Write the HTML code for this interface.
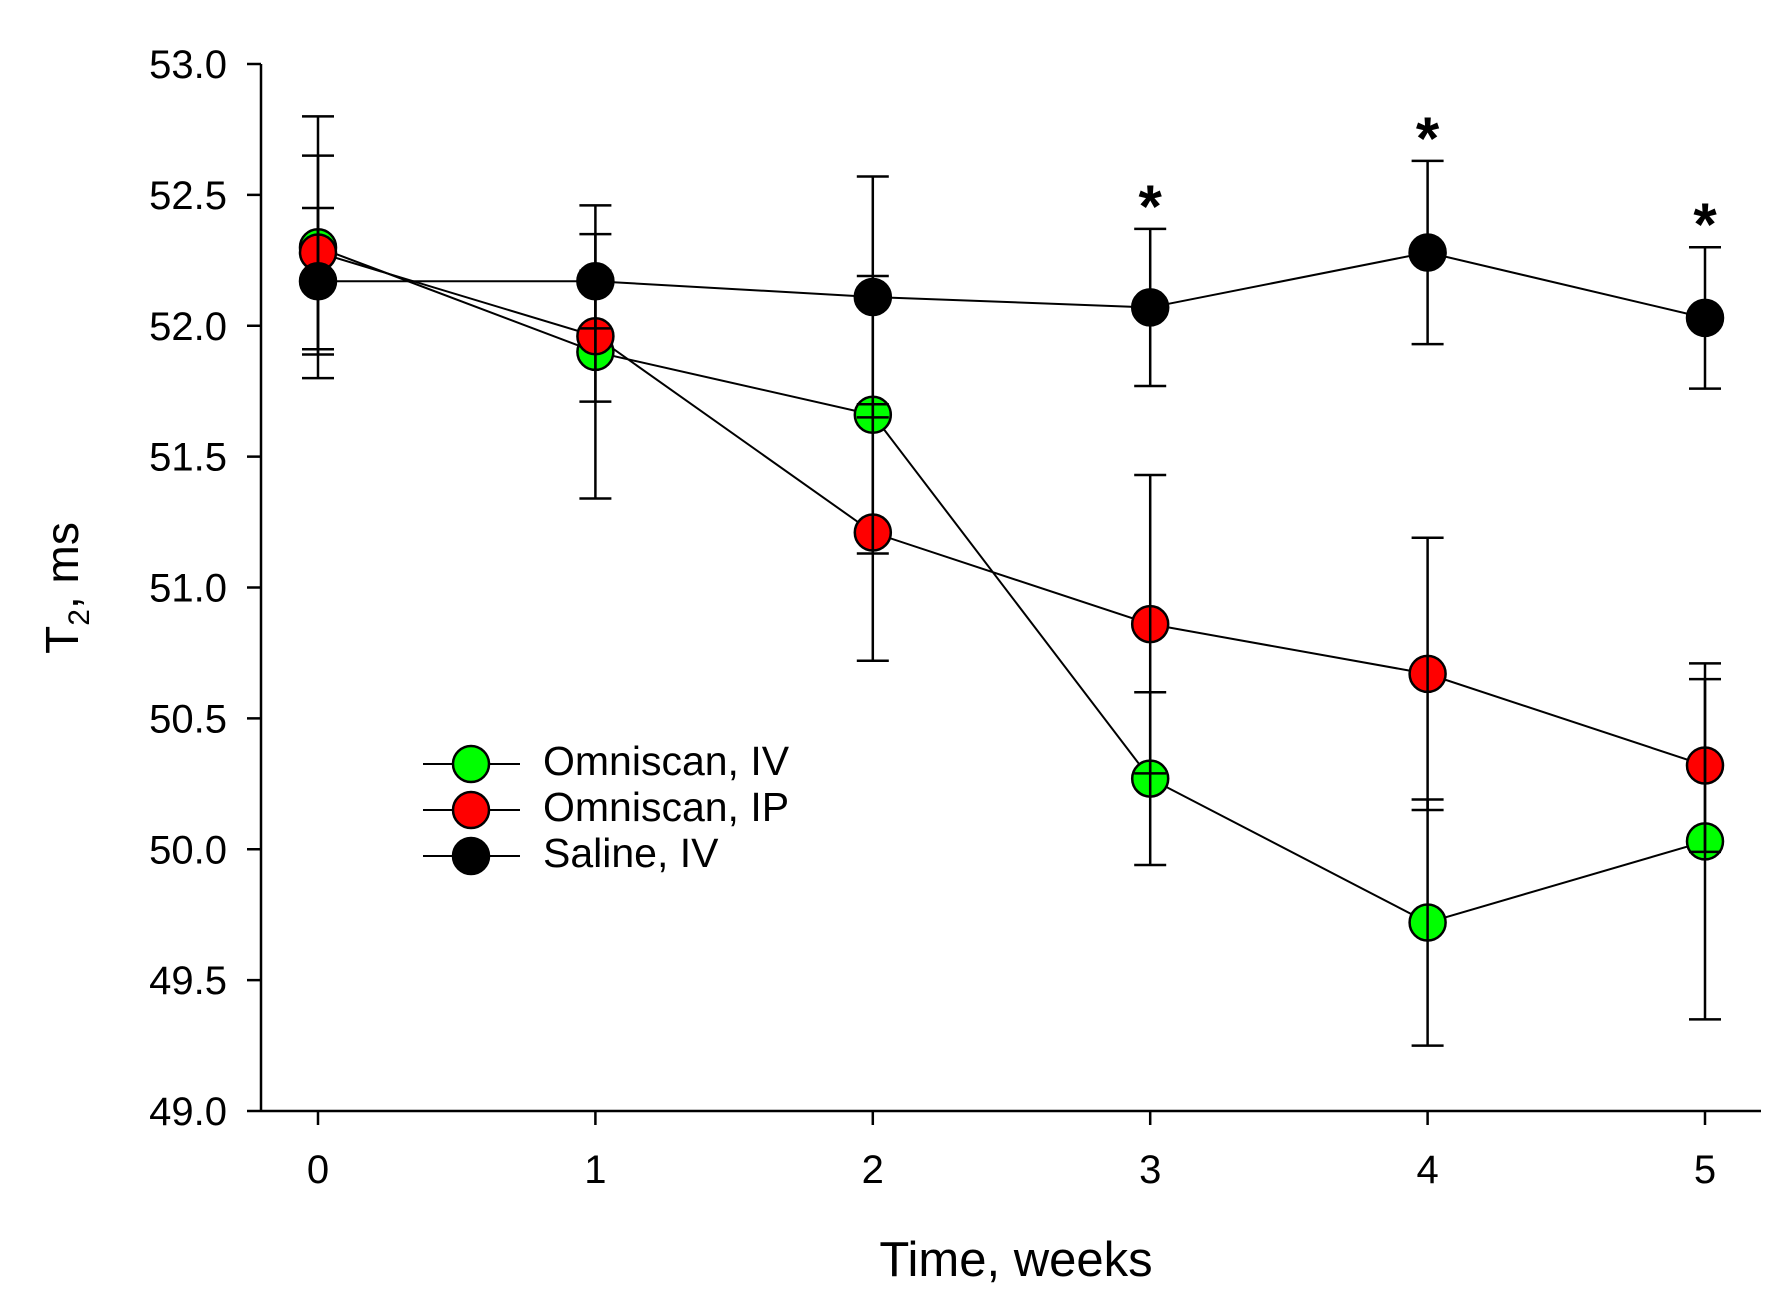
<!DOCTYPE html>
<html><head><meta charset="utf-8"><style>
html,body{margin:0;padding:0;background:#fff;}
svg{display:block;font-family:"Liberation Sans",Arial,sans-serif;}
</style></head><body>
<svg id="chart" width="1782" height="1302" viewBox="0 0 1782 1302" xmlns="http://www.w3.org/2000/svg">
<g id="axes"></g>
<g id="plot"></g>
<g id="legend"></g>
<text x="1016" y="1276" font-size="49" text-anchor="middle">Time, weeks</text>
<text transform="translate(78,588) rotate(-90)" font-size="46" text-anchor="middle">T<tspan font-size="30" dy="11">2</tspan><tspan dy="-11">, ms</tspan></text>
</svg>
<script>
const weeks = [0, 1, 2, 3, 4, 5];
const yTicks = [49.0, 49.5, 50.0, 50.5, 51.0, 51.5, 52.0, 52.5, 53.0];
const ivValues = [52.30, 51.90, 51.66, 50.27, 49.72, 50.03];
const ivErrors = [0.50, 0.56, 0.53, 0.33, 0.47, 0.68];
const ipValues = [52.28, 51.96, 51.21, 50.86, 50.67, 50.32];
const ipErrors = [0.37, 0.25, 0.49, 0.57, 0.52, 0.33];
const salValues = [52.17, 52.17, 52.11, 52.07, 52.28, 52.03];
const salErrors = [0.28, 0.18, 0.46, 0.30, 0.35, 0.27];
const significant = [false, false, false, true, true, true];
const seriesNames = ["Omniscan, IV", "Omniscan, IP", "Saline, IV"];

const NS = "http://www.w3.org/2000/svg";
const X0 = 318, DX = 277.4, Y0 = 1111, Y1 = 64, AXL = 261, AXR = 1761;
const xs = w => X0 + w * DX;
const ys = v => Y0 - (v - 49) / 4 * (Y0 - Y1);
function mk(tag, attrs, parent) {
  const e = document.createElementNS(NS, tag);
  for (const k in attrs) e.setAttribute(k, attrs[k]);
  parent.appendChild(e);
  return e;
}
const axes = document.getElementById('axes');
const plot = document.getElementById('plot');
const legend = document.getElementById('legend');

let a = mk('line', {x1: AXL, y1: Y1, x2: AXL, y2: Y0, stroke: '#000', 'stroke-width': 2.5}, axes);


a = mk('line', {x1: AXL, y1: Y0, x2: AXR, y2: Y0, stroke: '#000', 'stroke-width': 2.5}, axes);


yTicks.forEach(t => {
  const y = ys(t);
  const l = mk('line', {x1: AXL - 14, y1: y, x2: AXL, y2: y, stroke: '#000', 'stroke-width': 2.5}, axes);
  
  
  const tx = mk('text', {x: 227, y: y + 14, 'font-size': 40, 'text-anchor': 'end'}, axes);
  tx.textContent = t.toFixed(1);
  
  
});
weeks.forEach(w => {
  const x = xs(w);
  const l = mk('line', {x1: x, y1: Y0, x2: x, y2: Y0 + 14, stroke: '#000', 'stroke-width': 2.5}, axes);
  
  
  const tx = mk('text', {x: x, y: 1183, 'font-size': 40, 'text-anchor': 'middle'}, axes);
  tx.textContent = String(w);
  
  
});

const series = [
  {vals: ivValues, errs: ivErrors, color: '#00ff00', key: 'omniscan-iv'},
  {vals: ipValues, errs: ipErrors, color: '#ff0000', key: 'omniscan-ip'},
  {vals: salValues, errs: salErrors, color: '#000000', key: 'saline-iv'}
];
series.forEach(s => {
  const pts = weeks.map((w, i) => xs(w) + ',' + ys(s.vals[i])).join(' ');
  const pl = mk('polyline', {points: pts, fill: 'none', stroke: '#000', 'stroke-width': 2}, plot);
  
  
});
series.forEach(s => {
  weeks.forEach((w, i) => {
    const c = mk('circle', {cx: xs(w), cy: ys(s.vals[i]), r: 18, fill: s.color, stroke: '#000', 'stroke-width': 2.5}, plot);
    
    
  });
});
series.forEach(s => {
  weeks.forEach((w, i) => {
    const x = xs(w), hi = ys(s.vals[i] + s.errs[i]), lo = ys(s.vals[i] - s.errs[i]);
    const g = mk('g', {stroke: '#000', 'stroke-width': 2.5}, plot);
    
    
    mk('line', {x1: x, y1: hi, x2: x, y2: lo}, g);
    mk('line', {x1: x - 16, y1: hi, x2: x + 16, y2: hi}, g);
    mk('line', {x1: x - 16, y1: lo, x2: x + 16, y2: lo}, g);
  });
});
weeks.forEach((w, i) => {
  if (!significant[i]) return;
  const t = mk('text', {x: xs(w), y: ys(salValues[i] + salErrors[i]) - 2, 'font-size': 60, 'font-weight': 'bold', 'text-anchor': 'middle'}, plot);
  t.textContent = '*';
  
  
});
const legY = [764, 810, 856];
series.forEach((s, i) => {
  const g = mk('g', {}, legend);
  
  
  mk('line', {x1: 423, y1: legY[i], x2: 520, y2: legY[i], stroke: '#000', 'stroke-width': 2}, g);
  mk('circle', {cx: 471, cy: legY[i], r: 18, fill: s.color, stroke: '#000', 'stroke-width': 2.5}, g);
  const t = mk('text', {x: 543, y: legY[i] + 11, 'font-size': 41}, g);
  t.textContent = seriesNames[i];
});
</script>
</body></html>
